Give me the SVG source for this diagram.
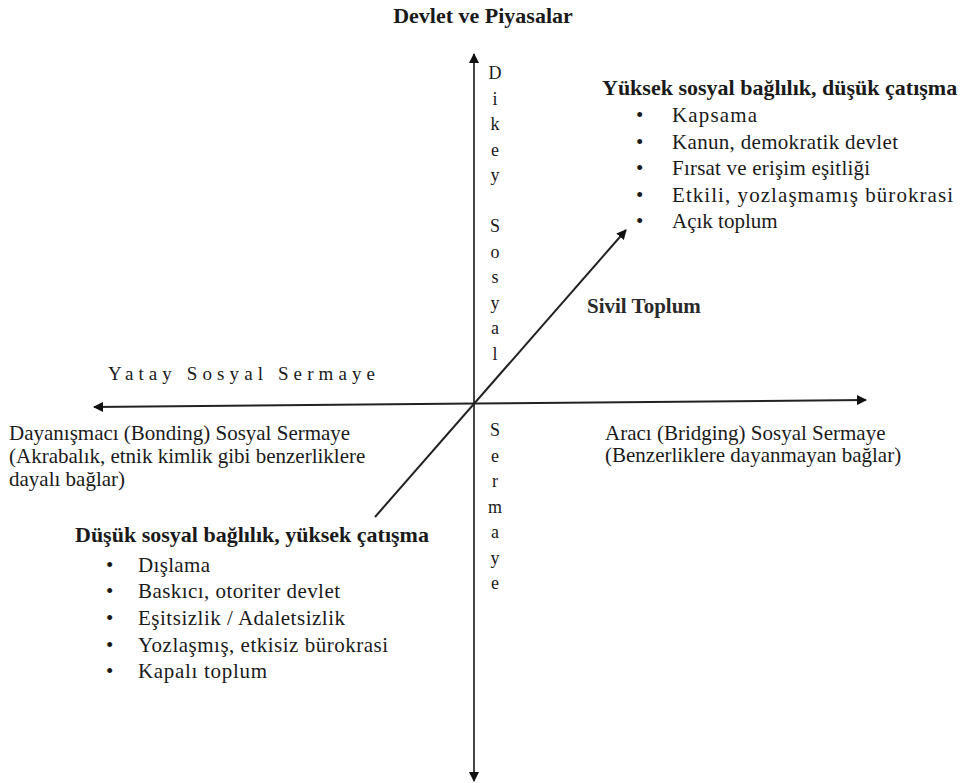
<svg xmlns="http://www.w3.org/2000/svg" width="967" height="783" viewBox="0 0 967 783">
<style>
text{font-family:"Liberation Serif","Times New Roman",serif;fill:#1a1a1a;font-size:21px}
.b{font-weight:bold;font-size:22px}
.s{font-weight:bold;font-size:21px;fill:#2a2a2a}
.v{font-size:18px;text-anchor:middle}
.ax{stroke:#222;stroke-width:2;fill:none}
</style>
<defs>
<marker id="ah" viewBox="0 0 10 10" refX="9" refY="5" markerWidth="5" markerHeight="5" orient="auto" markerUnits="strokeWidth">
<path d="M0,0 L10,5 L0,10 z" fill="#111"/>
</marker>
</defs>
<rect width="967" height="783" fill="#fff"/>
<g id="connectors">
<line class="ax" x1="474" y1="403" x2="474" y2="54" marker-end="url(#ah)" style="stroke:#444"/>
<line class="ax" x1="474" y1="403" x2="474" y2="781" marker-end="url(#ah)" style="stroke:#444"/>
<line class="ax" x1="474" y1="403.5" x2="94" y2="407" marker-end="url(#ah)"/>
<line class="ax" x1="474" y1="403.5" x2="866" y2="400" marker-end="url(#ah)"/>
<line class="ax" x1="375" y1="517" x2="626" y2="230" marker-end="url(#ah)"/>
</g>
<g id="top-title"><text class="b" x="483" y="23" text-anchor="middle">Devlet ve Piyasalar</text></g>
<g id="vertical-label">
<text class="v" x="495" y="79">D</text>
<text class="v" x="495" y="104.5">i</text>
<text class="v" x="495" y="130">k</text>
<text class="v" x="495" y="155.5">e</text>
<text class="v" x="495" y="181">y</text>
<text class="v" x="495" y="232">S</text>
<text class="v" x="495" y="257.5">o</text>
<text class="v" x="495" y="283">s</text>
<text class="v" x="495" y="308.5">y</text>
<text class="v" x="495" y="334">a</text>
<text class="v" x="495" y="359.5">l</text>
<text class="v" x="495" y="436">S</text>
<text class="v" x="495" y="461.5">e</text>
<text class="v" x="495" y="487">r</text>
<text class="v" x="495" y="512.5">m</text>
<text class="v" x="495" y="538">a</text>
<text class="v" x="495" y="563.5">y</text>
<text class="v" x="495" y="589">e</text>
</g>
<g id="top-right">
<text class="b" x="602" y="95">Yüksek sosyal bağlılık, düşük çatışma</text>
<text x="636" y="122">•</text><text x="672" y="122" textLength="85" lengthAdjust="spacing">Kapsama</text>
<text x="636" y="149">•</text><text x="672" y="149" textLength="226" lengthAdjust="spacing">Kanun, demokratik devlet</text>
<text x="636" y="175">•</text><text x="672" y="175" textLength="198" lengthAdjust="spacing">Fırsat ve erişim eşitliği</text>
<text x="636" y="202">•</text><text x="672" y="202" textLength="281" lengthAdjust="spacing">Etkili, yozlaşmamış bürokrasi</text>
<text x="636" y="228">•</text><text x="672" y="228">Açık toplum</text>
</g>
<g id="sivil-toplum"><text class="s" x="587" y="313">Sivil Toplum</text></g>
<g id="yatay"><text x="108" y="380" textLength="267" lengthAdjust="spacing" style="font-size:19px">Yatay Sosyal Sermaye</text></g>
<g id="bonding">
<text x="9" y="440">Dayanışmacı (Bonding) Sosyal Sermaye</text>
<text x="9" y="463">(Akrabalık, etnik kimlik gibi benzerliklere</text>
<text x="9" y="486">dayalı bağlar)</text>
</g>
<g id="bridging">
<text x="605" y="440">Aracı (Bridging) Sosyal Sermaye</text>
<text x="605" y="462">(Benzerliklere dayanmayan bağlar)</text>
</g>
<g id="bottom-left">
<text class="b" x="75" y="542">Düşük sosyal bağlılık, yüksek çatışma</text>
<text x="106" y="572">•</text><text x="138" y="572" textLength="72" lengthAdjust="spacing">Dışlama</text>
<text x="106" y="598">•</text><text x="138" y="598" textLength="202" lengthAdjust="spacing">Baskıcı, otoriter devlet</text>
<text x="106" y="625">•</text><text x="138" y="625" textLength="207" lengthAdjust="spacing">Eşitsizlik / Adaletsizlik</text>
<text x="106" y="652">•</text><text x="138" y="652" textLength="250" lengthAdjust="spacing">Yozlaşmış, etkisiz bürokrasi</text>
<text x="106" y="678">•</text><text x="138" y="678" textLength="129" lengthAdjust="spacing">Kapalı toplum</text>
</g>
</svg>
